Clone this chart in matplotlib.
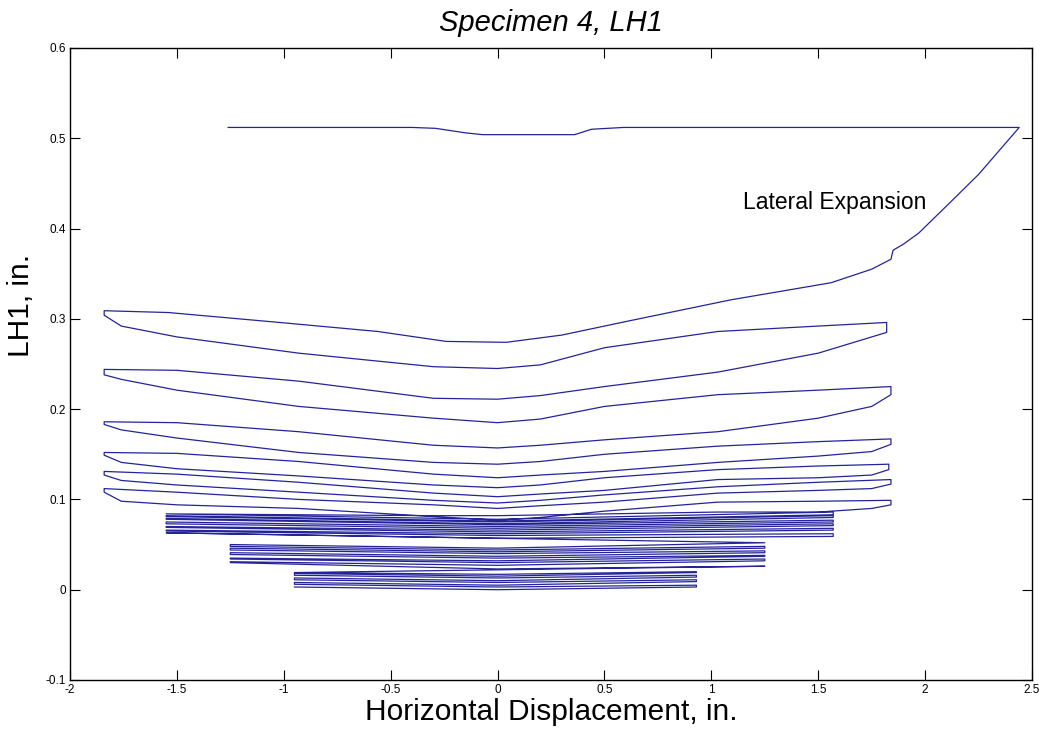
import numpy as np
import matplotlib
matplotlib.use("Agg")
import matplotlib.pyplot as plt

plt.rcParams['font.family'] = ['Liberation Sans', 'DejaVu Sans']

# ---- Final pass: top plateau and lateral-expansion run (traced left to right, then down) ----
top_x = [-1.26, -0.40, -0.29, -0.15, -0.07, 0.36, 0.44, 0.59, 2.44]
top_y = [0.512, 0.512, 0.511, 0.506, 0.504, 0.504, 0.510, 0.512, 0.512]
exp_x = [2.25, 2.10, 1.97, 1.90, 1.85, 1.84, 1.75, 1.56, 1.09, 0.60, 0.30, 0.04,
         -0.24, -0.56, -1.02, -1.54, -1.84]
exp_y = [0.460, 0.425, 0.395, 0.383, 0.376, 0.366, 0.355, 0.340, 0.321, 0.297,
         0.282, 0.274, 0.275, 0.286, 0.296, 0.307, 0.309]

# ---- Large cycles (about +/-1.84 in.) ----
sweep_lr_x = [-1.84, -1.76, -1.5, -0.93, -0.3, 0.0, 0.2, 0.5, 1.03, 1.5]
sweep_rl_x = [1.75, 1.5, 1.03, 0.5, 0.2, 0.0, -0.3, -0.93, -1.5, -1.84]
right_tip_x = [1.82, 1.84, 1.84, 1.83, 1.84, 1.84]

cycle_lr_y = [
    [0.304, 0.292, 0.280, 0.262, 0.247, 0.245, 0.249, 0.268, 0.286, 0.292, 0.296],
    [0.238, 0.233, 0.221, 0.203, 0.190, 0.185, 0.189, 0.203, 0.216, 0.221, 0.225],
    [0.183, 0.177, 0.168, 0.152, 0.141, 0.139, 0.142, 0.150, 0.159, 0.164, 0.167],
    [0.149, 0.141, 0.134, 0.126, 0.116, 0.113, 0.116, 0.124, 0.133, 0.137, 0.139],
    [0.127, 0.121, 0.116, 0.108, 0.099, 0.096, 0.099, 0.105, 0.114, 0.119, 0.122],
    [0.108, 0.098, 0.094, 0.090, 0.081, 0.077, 0.080, 0.087, 0.097, 0.098, 0.099],
]
cycle_rl_y = [
    [0.285, 0.280, 0.262, 0.241, 0.225, 0.215, 0.211, 0.212, 0.231, 0.243, 0.244],
    [0.216, 0.203, 0.190, 0.175, 0.166, 0.160, 0.157, 0.160, 0.175, 0.185, 0.186],
    [0.161, 0.153, 0.148, 0.141, 0.131, 0.127, 0.124, 0.128, 0.142, 0.151, 0.152],
    [0.133, 0.127, 0.124, 0.122, 0.110, 0.106, 0.103, 0.107, 0.119, 0.128, 0.131],
    [0.117, 0.112, 0.110, 0.107, 0.097, 0.093, 0.090, 0.094, 0.100, 0.108, 0.112],
]
# last large sweep returning to the +/-1.55 in. group
link_x = [1.84, 1.75, 1.5, 1.03, 0.5, 0.0, -0.3, -0.93, -1.55]
link_y = [0.094, 0.090, 0.086, 0.086, 0.084, 0.082, 0.082, 0.083, 0.084]

# ---- Small cycle groups (start value, mid-span value, end value per sweep) ----
c_span = (-0.95, 0.93)
c_start = [0.003, 0.005, 0.008, 0.011, 0.013, 0.016, 0.018, 0.020]
c_mid = [0.000, 0.003, 0.005, 0.008, 0.010, 0.013, 0.015, 0.017]
c_end = [0.003, 0.006, 0.009, 0.011, 0.014, 0.016, 0.019, 0.019]

b_span = (-1.25, 1.25)
b_start = [0.026, 0.031, 0.034, 0.035, 0.038, 0.041, 0.043, 0.046, 0.048, 0.050]
b_mid = [0.023, 0.027, 0.030, 0.032, 0.035, 0.037, 0.040, 0.042, 0.044, 0.046]
b_end = [0.030, 0.032, 0.034, 0.037, 0.039, 0.041, 0.044, 0.046, 0.048, 0.052]

a_span = (-1.55, 1.57)
a_start = [0.063, 0.062, 0.066, 0.068, 0.070, 0.073, 0.075, 0.077, 0.079, 0.082, 0.082, 0.086]
a_mid = [0.057, 0.060, 0.062, 0.064, 0.066, 0.068, 0.070, 0.072, 0.073, 0.075, 0.076, 0.078]
a_end = [0.059, 0.065, 0.066, 0.069, 0.071, 0.073, 0.075, 0.078, 0.080, 0.081, 0.083, 0.084]

x_ticks = [-2, -1.5, -1, -0.5, 0, 0.5, 1, 1.5, 2, 2.5]
x_labels = ['-2', '-1.5', '-1', '-0.5', '0', '0.5', '1', '1.5', '2', '2.5']
y_ticks = [-0.1, 0, 0.1, 0.2, 0.3, 0.4, 0.5, 0.6]
y_labels = ['-0.1', '0', '0.1', '0.2', '0.3', '0.4', '0.5', '0.6']


def group_path(span, ys, ym, ye, left_first):
    xs, yv = [], []
    lr = left_first
    for s, m, e in zip(ys, ym, ye):
        x0, x1 = (span[0], span[1]) if lr else (span[1], span[0])
        xs += [x0, 0.0, x1]
        yv += [s, m, e]
        lr = not lr
    return xs, yv


# small cycles, in loading order
px, py = [], []
for span, s, m, e, lf in [(c_span, c_start, c_mid, c_end, True),
                          (b_span, b_start, b_mid, b_end, False),
                          (a_span, a_start, a_mid, a_end, True)]:
    gx, gy = group_path(span, s, m, e, lf)
    px += gx
    py += gy

# large cycles traced from the plateau downward, then reversed
tx = list(top_x) + exp_x
ty = list(top_y) + exp_y
for i in range(6):
    tx += sweep_lr_x + [right_tip_x[i]]
    ty += cycle_lr_y[i]
    if i < 5:
        tx += [right_tip_x[i]] + sweep_rl_x
        ty += cycle_rl_y[i]
tx += link_x
ty += link_y

px += tx[::-1]
py += ty[::-1]

fig = plt.figure(figsize=(10.41, 7.36), dpi=100)
ax = fig.add_axes([0.0672, 0.0761, 0.9242, 0.8587])
ax.plot(px, py, color='#24249a', lw=0.9)

ax.text(1.15, 0.429, 'Lateral Expansion', fontsize=16.5, va='center', ha='left')

ax.set_xlim(-2, 2.5)
ax.set_ylim(-0.1, 0.6)
ax.set_xticks(x_ticks)
ax.set_xticklabels(x_labels)
ax.set_yticks(y_ticks)
ax.set_yticklabels(y_labels)
ax.tick_params(direction='in', length=7, width=0.8, labelsize=8.5,
               top=True, right=True, pad=3)
for sp in ax.spines.values():
    sp.set_linewidth(1.0)

ax.set_title('Specimen 4, LH1', fontsize=21, style='italic', pad=12)
ax.set_xlabel('Horizontal Displacement, in.', fontsize=21.5, labelpad=1)
ax.set_ylabel('LH1, in.', fontsize=21.5)
ax.yaxis.set_label_coords(-0.036, 0.593)

fig.savefig('out.png', dpi=100)
